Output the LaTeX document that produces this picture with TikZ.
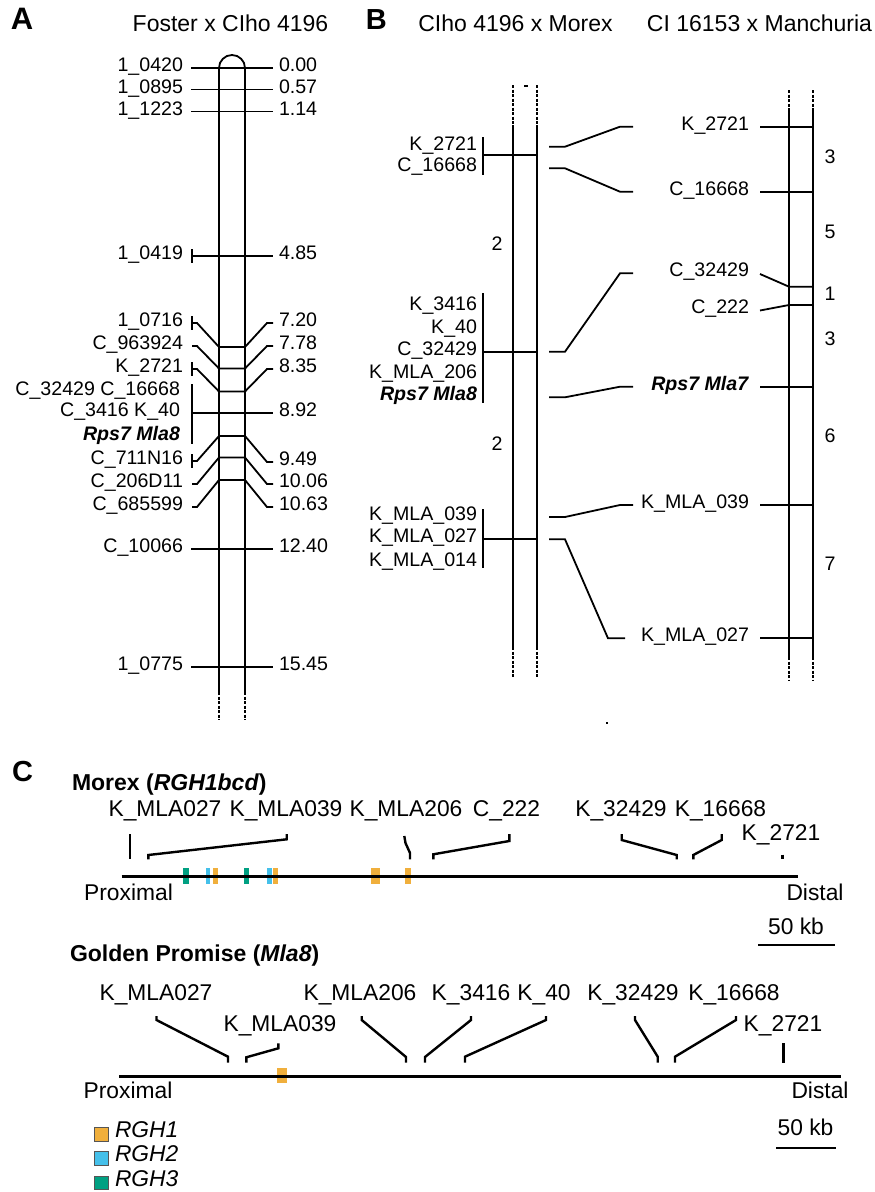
\documentclass[tikz,border=0pt]{standalone}
\usepackage{fontspec}
\setmainfont{Liberation Sans}
\definecolor{rghone}{HTML}{F0AF3C}
\definecolor{rghtwo}{HTML}{45C0EA}
\definecolor{rghthree}{HTML}{00A082}
\definecolor{legborder}{HTML}{555555}
\tikzset{
 lab/.style={inner sep=0pt, outer sep=0pt, text height=0.72em, text depth=0pt, font=\fontsize{19.6}{22}\selectfont},
 clab/.style={lab, font=\fontsize{22.8}{26}\selectfont},
 ttl/.style={lab, font=\fontsize{23}{26}\selectfont},
 btl/.style={lab, font=\fontsize{23}{26}\selectfont\bfseries},
 plet/.style={lab, font=\fontsize{31}{34}\selectfont\bfseries},
 mk/.style={line width=1.8pt},
 chr/.style={line width=1.8pt},
 chrd/.style={line width=1.8pt, dash pattern=on 3pt off 1.5pt},
 cmk/.style={line width=2.4pt},
 cchr/.style={line width=3pt},
 legbox/.style={draw=legborder, line width=0.8pt},
}
\begin{document}
\begin{tikzpicture}[x=1pt,y=-1pt]
\useasboundingbox (0,0) rectangle (875,1192);

% ================= Panel A =================
\node[plet] (pA) at (22,25.5) {A};
\node[ttl] (tA) at (230.5,27.5) {Foster x CIho 4196};

\draw[chr] (219,692) -- (219,68) arc[start angle=180,end angle=360,radius=13] -- (245,692);
\draw[chrd] (219,692) -- (219,720) (245,692) -- (245,720);

\foreach \y/\l/\r [count=\i] in {68/1\_0420/0.00, 89.5/1\_0895/0.57, 111.5/1\_1223/1.14, 256/1\_0419/4.85, 549/C\_10066/12.40, 667/1\_0775/15.45}{
  \node[lab,anchor=east] (aL\i) at (183,\y) {\l};
  \node[lab,anchor=west] (aR\i) at (279,\y) {\r};
  \draw[mk] (191,\y) -- (273,\y);
}
\draw[mk] (192,249) -- (192,263);

\foreach \ly/\cy/\ry/\l/\r [count=\i] in {323/347/323/1\_0716/7.20, 346/368.5/346/C\_963924/7.78, 369/391.5/369/K\_2721/8.35, 461/436/462/C\_711N16/9.49, 484/457.5/484/C\_206D11/10.06, 507/480/507/C\_685599/10.63}{
  \node[lab,anchor=east] (dL\i) at (183,\ly) {\l};
  \node[lab,anchor=west] (dR\i) at (279,\ry) {\r};
  \draw[mk] (192,\ly) -- (197,\ly) -- (219,\cy) -- (245,\cy) -- (267,\ry) -- (273,\ry);
}
\draw[mk] (192,316) -- (192,330);
\draw[mk] (192,362) -- (192,376);
\draw[mk] (192,454) -- (192,468);

\draw[mk] (192,384) -- (192,444);
\draw[mk] (192,413) -- (273,413);
\node[lab,anchor=east] (bk1) at (180,391.5) {C\_32429 C\_16668};
\node[lab,anchor=east] (bk2) at (180,412.7) {C\_3416 K\_40};
\node[lab,anchor=east] (bk3) at (180,436.7) {\textbf{\textit{Rps7 Mla8}}};
\node[lab,anchor=west] (bk4) at (279,413) {8.92};

% ================= Panel B =================
\node[plet, font=\fontsize{29}{32}\selectfont\bfseries] (pB) at (376.3,25.5) {B};
\node[ttl] (tB1) at (515.5,27.5) {CIho 4196 x Morex};
\node[ttl] (tB2) at (759.5,27.5) {CI 16153 x Manchuria};

% chromosome B1
\draw[chrd] (513,85) -- (513,125) (537,85) -- (537,125);
\draw[chr] (513,125) -- (513,647) (537,125) -- (537,647);
\draw[chrd] (513,647) -- (513,678) (537,647) -- (537,678);
\fill (524,85.3) rectangle (527.5,87);
\fill (606,722) rectangle (608,724);

\draw[mk] (483,137) -- (483,175);
\draw[mk] (483,293) -- (483,403);
\draw[mk] (483,509) -- (483,568);
\draw[mk] (483,155) -- (537,155);
\draw[mk] (483,351.7) -- (537,351.7);
\draw[mk] (483,539.3) -- (537,539.3);

\foreach \y/\l [count=\i] in {146.7/K\_2721, 168.3/C\_16668, 306.7/K\_3416, 330/K\_40, 351.7/C\_32429, 375/K\_MLA\_206, 397.3/\textbf{\textit{Rps7 Mla8}}, 516.7/K\_MLA\_039, 539.3/K\_MLA\_027, 562.7/K\_MLA\_014}{
  \node[lab,anchor=east] (bL\i) at (477,\y) {\l};
}
\node[lab] (n2a) at (497,246.7) {2};
\node[lab] (n2b) at (497,446.7) {2};

% chromosome B2
\draw[chrd] (789,90) -- (789,110) (813,90) -- (813,110);
\draw[chr] (789,110) -- (789,657) (813,110) -- (813,657);
\draw[chrd] (789,657) -- (789,681) (813,657) -- (813,681);

\foreach \y/\l [count=\i] in {126.7/K\_2721, 191.7/C\_16668, 386.7/\textbf{\textit{Rps7 Mla7}}, 505/K\_MLA\_039, 638.3/K\_MLA\_027}{
  \node[lab,anchor=east] (cR\i) at (749,\y) {\l};
  \draw[mk] (760,\y) -- (813,\y);
}
\node[lab,anchor=east] (cR6) at (749,273.3) {C\_32429};
\draw[mk] (760,274) -- (789,286.7) -- (813,286.7);
\node[lab,anchor=east] (cR7) at (749,310) {C\_222};
\draw[mk] (760,310.5) -- (789,305) -- (813,305);

\foreach \y/\n [count=\i] in {160/3, 235/5, 296.7/1, 341.7/3, 439.3/6, 566.7/7}{
  \node[lab] (num\i) at (830,\y) {\n};
}

% connectors between maps
\draw[mk] (549,146.7) -- (565,146.7) -- (620,126.7) -- (633,126.7);
\draw[mk] (549,168.3) -- (565,168.3) -- (620,191.7) -- (633,191.7);
\draw[mk] (549,351.7) -- (565,351.7) -- (620,273.3) -- (633,273.3);
\draw[mk] (549,397.3) -- (565,397.3) -- (620,386.7) -- (633,386.7);
\draw[mk] (549,517) -- (565,517) -- (620,505) -- (633,505);
\draw[mk] (549,539.3) -- (565,539.3) -- (608,638.3) -- (625,638.3);

% ================= Panel C =================
\node[plet, font=\fontsize{29}{32}\selectfont\bfseries] (pC) at (22.5,778) {C};
\node[btl,anchor=west] (tM) at (72,786.7) {Morex (\textit{RGH1bcd})};

% Morex genes
\fill[rghthree] (183.3,868.3) rectangle (189.3,883.5);
\fill[rghtwo]   (205.7,868.3) rectangle (210.2,883.5);
\fill[rghone]   (213.3,868.3) rectangle (218.3,883.5);
\fill[rghthree] (244.3,868.3) rectangle (248.7,883.5);
\fill[rghtwo]   (266.7,868.3) rectangle (271.7,883.5);
\fill[rghone]   (272.7,868.3) rectangle (278.3,883.5);
\fill[rghone]   (371,868.3) rectangle (380,883.5);
\fill[rghone]   (405,868.3) rectangle (411.3,883.5);
\draw[cchr] (121.7,876) -- (798.3,876);

\foreach \x/\l [count=\i] in {165/K\_MLA027, 286/K\_MLA039, 406/K\_MLA206, 506.5/C\_222, 621/K\_32429, 720.5/K\_16668}{
  \node[clab] (mL\i) at (\x,813.3) {\l};
}
\node[clab] (mL7) at (781,837.3) {K\_2721};

\draw[cmk] (130,834) -- (130,859.3);
\draw[cmk] (148.3,859.3) -- (148.3,855) -- (286.7,839.3) -- (286.7,834);
\draw[cmk] (404.3,836) -- (405.5,843) -- (410,853) -- (410,859.3);
\draw[cmk] (433.3,859.3) -- (433.3,854.3) -- (509.3,841) -- (509.3,834);
\draw[cmk] (621.7,834) -- (621.7,840) -- (676.7,855) -- (676.7,859.3);
\draw[cmk] (721.7,834) -- (721.7,840) -- (693.3,855) -- (693.3,859.3);
\draw[cmk] (782.3,854.5) -- (782.3,859.3);

\node[clab] (mProx) at (128.5,896.7) {Proximal};
\node[clab] (mDist) at (815,896.7) {Distal};
\node[clab] (mkb) at (796,930.7) {50 kb};
\draw[line width=2.2pt] (758.3,945) -- (835,945);

% Golden Promise
\node[btl,anchor=west] (tG) at (70,958.3) {Golden Promise (\textit{Mla8})};
\fill[rghone] (276.7,1068.3) rectangle (286.7,1082.7);
\draw[cchr] (119,1076) -- (840.7,1076);

\foreach \x/\l [count=\i] in {156/K\_MLA027, 360/K\_MLA206, 471/K\_3416, 544/K\_40, 633/K\_32429, 734/K\_16668}{
  \node[clab] (gL\i) at (\x,997) {\l};
}
\node[clab] (gL7) at (280,1027.5) {K\_MLA039};
\node[clab] (gL8) at (783,1028.3) {K\_2721};

\draw[cmk] (156.5,1016) -- (156.5,1020) -- (228,1056.7) -- (228,1062.7);
\draw[cmk] (278.3,1043.3) -- (278.3,1048.3) -- (246.3,1057.3) -- (246.3,1062.7);
\draw[cmk] (361.7,1016) -- (361.7,1020) -- (406,1057) -- (406,1062.7);
\draw[cmk] (471,1016) -- (471,1020) -- (425,1057) -- (425,1062.7);
\draw[cmk] (546,1016) -- (546,1020) -- (465,1056.7) -- (465,1062.7);
\draw[cmk] (635,1016) -- (635,1020) -- (657.7,1056.7) -- (657.7,1062.7);
\draw[cmk] (736,1016) -- (736,1020) -- (675,1056.7) -- (675,1062.7);
\draw[cmk] (783.3,1043.3) -- (783.3,1062.7);

\node[clab] (gProx) at (128,1095) {Proximal};
\node[clab] (gDist) at (820,1095) {Distal};
\node[clab] (gkb) at (805.5,1131.7) {50 kb};
\draw[line width=2.2pt] (776,1148.3) -- (836,1148.3);

% legend
\draw[legbox, fill=rghone]   (94.3,1127.3) rectangle (108.3,1141);
\draw[legbox, fill=rghtwo]   (94.3,1151.3) rectangle (108.3,1165);
\draw[legbox, fill=rghthree] (94.3,1176) rectangle (108.3,1189.5);
\node[clab,anchor=west] (lg1) at (115,1134) {\textit{RGH1}};
\node[clab,anchor=west] (lg2) at (115,1158.2) {\textit{RGH2}};
\node[clab,anchor=west] (lg3) at (115,1182.8) {\textit{RGH3}};
\end{tikzpicture}
\end{document}
